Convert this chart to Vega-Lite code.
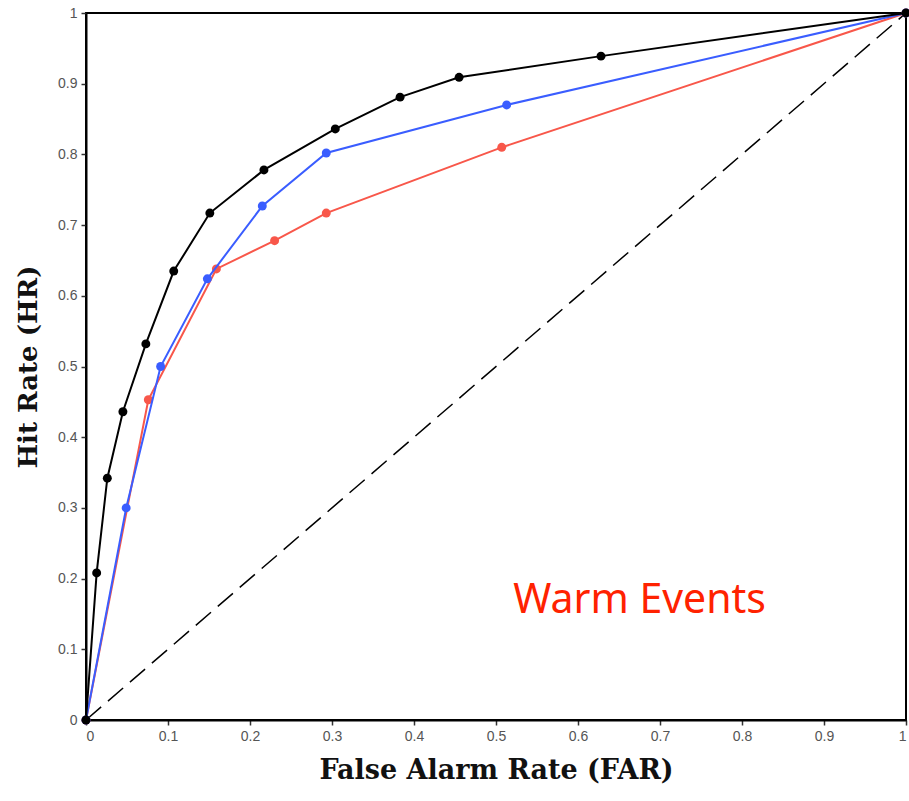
{
  "$schema": "https://vega.github.io/schema/vega-lite/v6.json",
  "width": 820,
  "height": 707,
  "autosize": "none",
  "padding": {"left": 86, "top": 13, "right": 3, "bottom": 81},
  "background": "white",
  "config": {
    "view": {"stroke": "black", "strokeWidth": 2},
    "axis": {
      "grid": false,
      "domainColor": "black",
      "domainWidth": 2,
      "tickColor": "#333",
      "tickWidth": 1.5,
      "tickSize": 5,
      "labelFont": "Liberation Sans",
      "labelFontSize": 14,
      "labelColor": "#555",
      "labelPadding": 4,
      "titleFont": "DejaVu Serif",
      "titleFontWeight": "bold",
      "titleColor": "#111"
    }
  },
  "datasets": {
    "roc": [
      {"series": "red", "far": 0, "hr": 0},
      {"series": "red", "far": 0.076, "hr": 0.453},
      {"series": "red", "far": 0.159, "hr": 0.638},
      {"series": "red", "far": 0.230, "hr": 0.678},
      {"series": "red", "far": 0.293, "hr": 0.717},
      {"series": "red", "far": 0.507, "hr": 0.810},
      {"series": "red", "far": 1, "hr": 1},
      {"series": "blue", "far": 0, "hr": 0},
      {"series": "blue", "far": 0.049, "hr": 0.300},
      {"series": "blue", "far": 0.091, "hr": 0.500},
      {"series": "blue", "far": 0.148, "hr": 0.624},
      {"series": "blue", "far": 0.215, "hr": 0.727},
      {"series": "blue", "far": 0.293, "hr": 0.802},
      {"series": "blue", "far": 0.513, "hr": 0.870},
      {"series": "blue", "far": 1, "hr": 1},
      {"series": "black", "far": 0, "hr": 0},
      {"series": "black", "far": 0.013, "hr": 0.208},
      {"series": "black", "far": 0.026, "hr": 0.342},
      {"series": "black", "far": 0.045, "hr": 0.436},
      {"series": "black", "far": 0.073, "hr": 0.532},
      {"series": "black", "far": 0.107, "hr": 0.635},
      {"series": "black", "far": 0.151, "hr": 0.717},
      {"series": "black", "far": 0.217, "hr": 0.778},
      {"series": "black", "far": 0.304, "hr": 0.836},
      {"series": "black", "far": 0.383, "hr": 0.881},
      {"series": "black", "far": 0.455, "hr": 0.909},
      {"series": "black", "far": 0.628, "hr": 0.939},
      {"series": "black", "far": 1, "hr": 1}
    ],
    "diag": [{"far": 0, "hr": 0}, {"far": 1, "hr": 1}],
    "label": [{"far": 0.521, "hr": 0.151, "text": "Warm Events"}]
  },
  "encoding": {
    "x": {
      "field": "far", "type": "quantitative",
      "scale": {"domain": [0, 1], "nice": false},
      "axis": {"values": [0, 0.1, 0.2, 0.3, 0.4, 0.5, 0.6, 0.7, 0.8, 0.9, 1], "format": "~g", "title": "False Alarm Rate (FAR)", "titleFontSize": 27, "titlePadding": 14}
    },
    "y": {
      "field": "hr", "type": "quantitative",
      "scale": {"domain": [0, 1], "nice": false},
      "axis": {"values": [0, 0.1, 0.2, 0.3, 0.4, 0.5, 0.6, 0.7, 0.8, 0.9, 1], "format": "~g", "title": "Hit Rate (HR)", "titleFontSize": 26, "titlePadding": 16}
    }
  },
  "layer": [
    {
      "data": {"name": "diag"},
      "mark": {"type": "line", "color": "black", "strokeWidth": 1.5, "strokeDash": [20, 9]}
    },
    {
      "data": {"name": "roc"},
      "transform": [{"filter": "datum.series === 'red'"}],
      "mark": {"type": "line", "color": "#f8574a", "strokeWidth": 2, "point": {"filled": true, "size": 80, "color": "#f8574a"}}
    },
    {
      "data": {"name": "roc"},
      "transform": [{"filter": "datum.series === 'blue'"}],
      "mark": {"type": "line", "color": "#3a5dff", "strokeWidth": 2, "point": {"filled": true, "size": 80, "color": "#3a5dff"}}
    },
    {
      "data": {"name": "roc"},
      "transform": [{"filter": "datum.series === 'black'"}],
      "mark": {"type": "line", "color": "black", "strokeWidth": 2, "point": {"filled": true, "size": 80, "color": "black"}}
    },
    {
      "data": {"name": "label"},
      "mark": {"type": "text", "align": "left", "baseline": "alphabetic", "font": "Noto Sans", "fontSize": 41, "color": "#ff2200"},
      "encoding": {"text": {"field": "text"}}
    }
  ]
}
